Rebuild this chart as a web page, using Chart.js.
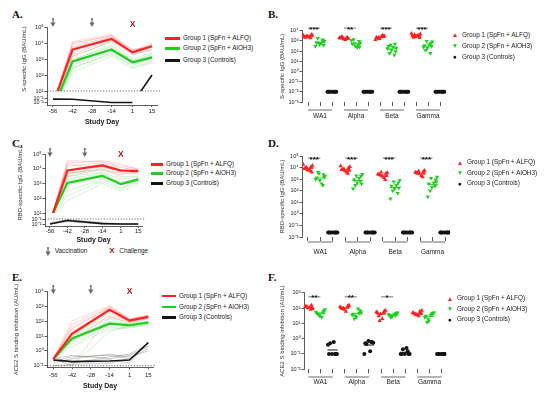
<!DOCTYPE html>
<html>
<head>
<meta charset="utf-8">
<script src="https://cdn.jsdelivr.net/npm/chart.js@4.4.1/dist/chart.umd.min.js"></script>
<style>
  html, body { margin: 0; padding: 0; background: #fff; }
  body { position: relative; width: 550px; height: 397px; overflow: hidden; font-family: "Liberation Sans", Arial, sans-serif; color: #222; }
  canvas { position: absolute; }
  .panel { position: absolute; font: bold 11px "Liberation Serif", "Times New Roman", serif; color: #111; }
  .leg { position: absolute; font-size: 6.4px; line-height: 8px; white-space: nowrap; color: #222; }
  .key { display: inline-block; vertical-align: middle; }
</style>
</head>
<body>
<div class="panel" style="left:12px;top:8px">A.</div>
<div class="panel" style="left:268px;top:8px">B.</div>
<div class="panel" style="left:12px;top:137px">C.</div>
<div class="panel" style="left:268px;top:137px">D.</div>
<div class="panel" style="left:12px;top:271px">E.</div>
<div class="panel" style="left:268px;top:271px">F.</div>

<canvas id="chartA" width="160" height="130" style="left:0;top:0"></canvas>
<canvas id="chartB" width="180" height="130" style="left:270px;top:0"></canvas>
<canvas id="chartC" width="150" height="115" style="left:0;top:130px"></canvas>
<canvas id="chartD" width="185" height="132" style="left:270px;top:130px"></canvas>
<canvas id="chartE" width="160" height="127" style="left:0;top:270px"></canvas>
<canvas id="chartF" width="180" height="127" style="left:270px;top:270px"></canvas>

<div class="leg" style="left:45px;top:247px">
  <svg width="6" height="9" style="vertical-align:middle"><path d="M3 0V6M2 1H4" stroke="#6b6b6b" stroke-width="1.2"/><path d="M0.4 4.6H5.6L3 9Z" fill="#6b6b6b"/></svg>
  <span style="margin-left:2px">Vaccination</span>
  <span style="margin-left:20px;color:#a3191c;font-weight:bold;font-size:8px">X</span>
  <span style="margin-left:3px">Challenge</span>
</div>

<script>
// study timeline
const days = [-56, -42, -14, 1, 15];
const dayTicks = [-56, -42, -28, -14, 1, 15];
const vaccinationDays = [-56, -28];
const challengeDays = [1];
const groupNames = ['Group 1 (SpFn + ALFQ)', 'Group 2 (SpFn + AlOH3)', 'Group 3 (Controls)'];
const variants = ['WA1', 'Alpha', 'Beta', 'Gamma'];

// A. S-specific IgG (BAU/mL) - group means and individual animals
const sG1 = [1.5, 3900, 18000, 2600, 6300];
const sG2 = [0.8, 700, 3900, 630, 1260];
const sG3 = [0.07, 0.065, 0.01, 0.01];     // lower segment, days -56..1
const sG3Late = [1.7, 100];                // days 1, 15
const sG1Animals = [
  [1.5, 12000, 35000, 3500, 8000], [1.5, 8000, 30000, 3000, 7000], [1.5, 6000, 25000, 2500, 5000],
  [1.5, 3000, 20000, 2200, 6000], [1.5, 2000, 15000, 1800, 4000], [1.5, 1500, 12000, 3000, 9000],
  [1.5, 5000, 22000, 4000, 5500], [1.5, 10000, 28000, 2000, 3500]
];
const sG2Animals = [
  [0.8, 1500, 12000, 1000, 2500], [0.8, 1000, 6000, 800, 2000], [0.8, 600, 4000, 500, 1500],
  [0.8, 400, 3000, 600, 1000], [0.8, 250, 2500, 300, 700], [0.8, 150, 1500, 250, 600],
  [0.8, 800, 8000, 700, 1800], [0.8, 300, 2000, 400, 1200]
];

// C. RBD-specific IgG (BAU/mL)
const rG1 = [2.3, 7600, 17000, 7600, 7000];
const rG2 = [3.6, 1100, 3300, 900, 1900];
const rG3 = [0.01, 0.05, 0.012, 0.01, 0.01];
const rG1Animals = [
  [2.3, 35000, 30000, 15000, 10000], [2.3, 25000, 35000, 20000, 9000], [2.3, 15000, 25000, 12000, 8000],
  [2.3, 8000, 20000, 9000, 7000], [2.3, 4000, 15000, 6000, 6000], [2.3, 3000, 10000, 5000, 5000],
  [2.3, 20000, 12000, 8000, 8500], [2.3, 5000, 8000, 4000, 6500]
];
const rG2Animals = [
  [3.6, 5000, 10000, 3000, 3000], [3.6, 3000, 6000, 2000, 2500], [3.6, 1500, 4000, 1200, 2000],
  [3.6, 800, 3000, 800, 1500], [3.6, 300, 2000, 500, 1200], [3.6, 70, 1000, 300, 1000],
  [3.6, 2000, 5000, 1000, 1800], [3.6, 150, 1500, 400, 2200]
];
const rG3Animals = [
  [0.01, 0.08, 0.02, 0.01, 0.01], [0.01, 0.03, 0.01, 0.01, 0.01], [0.02, 0.06, 0.015, 0.01, 0.01]
];

// E. ACE2 S binding inhibition (AU/mL)
const aG1 = [0.28, 14.5, 600, 110, 200];
const aG2 = [0.28, 6.9, 69, 54, 83];
const aG3 = [0.24, 0.19, 0.21, 0.24, 3.7];
const aG1Animals = [
  [0.3, 100, 1200, 150, 250], [0.3, 60, 1000, 130, 220], [0.3, 40, 800, 120, 200],
  [0.3, 20, 600, 100, 180], [0.3, 10, 400, 90, 160], [0.3, 5, 250, 110, 210],
  [0.3, 0.1, 200, 80, 150], [0.3, 30, 900, 140, 240]
];
const aG2Animals = [
  [0.3, 15, 200, 80, 100], [0.3, 10, 150, 60, 90], [0.3, 8, 100, 50, 80],
  [0.3, 5, 60, 45, 70], [0.3, 3, 40, 40, 60], [0.3, 2, 30, 35, 55],
  [0.3, 0.1, 20, 50, 75], [0.3, 6, 80, 70, 95]
];
const aG3Animals = [
  [0.2, 0.4, 0.5, 0.3, 1.5], [0.3, 0.5, 0.3, 0.5, 2], [0.15, 0.3, 0.6, 0.4, 1],
  [0.25, 0.2, 0.25, 0.15, 4], [0.4, 0.15, 0.4, 0.6, 3], [0.1, 0.12, 0.15, 0.3, 2.5]
];

// B. S-specific IgG by variant (WA1, Alpha, Beta, Gamma)
const bG1 = [
  [2400, 3100, 2800, 3600, 2100, 2600, 3300, 1900, 2900, 4200],
  [1800, 2200, 1500, 1700, 2500, 1300, 2000, 1600, 2300, 1900],
  [2200, 2600, 1600, 3000, 1900, 2400, 1300, 3500, 2000, 2800],
  [3000, 3600, 2500, 4800, 2200, 3300, 5200, 2800, 4000, 2000]
];
const bG2 = [
  [700, 1300, 450, 900, 1800, 550, 300, 1100, 650, 380],
  [500, 900, 300, 650, 1400, 230, 1100, 400, 560, 250],
  [300, 500, 120, 200, 60, 250, 180, 40, 400, 90],
  [350, 600, 200, 800, 120, 450, 250, 60, 900, 300]
];
const bG3 = [
  [0.01, 0.01, 0.01, 0.01, 0.01, 0.01, 0.01, 0.01],
  [0.01, 0.01, 0.01, 0.01, 0.01, 0.01, 0.01, 0.01],
  [0.01, 0.01, 0.01, 0.01, 0.01, 0.01, 0.01, 0.01],
  [0.01, 0.01, 0.01, 0.01, 0.01, 0.01, 0.01, 0.01]
];
const bSig = ['***', '**', '***', '***'];

// D. RBD-specific IgG by variant
const dG1 = [
  [8000, 12000, 6000, 15000, 9000, 7000, 18000, 5000, 10000, 4000],
  [6500, 9000, 5000, 12000, 7000, 4000, 14000, 3000, 8000, 5500],
  [2500, 3000, 1800, 3500, 2200, 1300, 2800, 900, 4000, 2000],
  [3500, 4500, 2800, 5500, 3000, 2000, 4000, 1500, 5000, 3200]
];
const dG2 = [
  [1300, 2500, 800, 1800, 4000, 400, 1000, 300, 3000, 1500],
  [900, 1800, 500, 2700, 300, 1200, 150, 700, 2000, 400],
  [250, 500, 150, 800, 100, 300, 20, 60, 600, 180],
  [400, 900, 200, 1500, 100, 500, 30, 250, 1200, 600]
];
const dG3 = [
  [0.025, 0.025, 0.025, 0.025, 0.025, 0.025, 0.025, 0.025],
  [0.025, 0.025, 0.025, 0.025, 0.025, 0.025, 0.025, 0.025],
  [0.025, 0.025, 0.025, 0.025, 0.025, 0.025, 0.025, 0.025],
  [0.025, 0.025, 0.025, 0.025, 0.025, 0.025, 0.025, 0.025]
];
const dSig = ['***', '***', '***', '***'];

// F. ACE2 S binding inhibition by variant
const fG1 = [
  [120, 150, 100, 90, 130, 110, 140, 80, 125, 105],
  [100, 130, 80, 150, 90, 60, 120, 110, 95, 140],
  [50, 60, 40, 70, 30, 20, 55, 45, 15, 65],
  [45, 55, 35, 70, 40, 30, 50, 60, 38, 42]
];
const fG2 = [
  [45, 60, 30, 80, 40, 25, 55, 50, 35, 65],
  [40, 70, 25, 50, 20, 90, 35, 45, 30, 60],
  [35, 45, 30, 50, 25, 40, 38, 33, 28, 48],
  [30, 45, 15, 50, 12, 35, 25, 40, 20, 48]
];
const fG3 = [
  [0.1, 0.1, 0.1, 0.1, 0.5, 0.6, 0.4, 0.1],
  [0.5, 0.6, 0.7, 0.55, 0.45, 0.15, 0.1, 0.6],
  [0.1, 0.1, 0.1, 0.1, 0.2, 0.25, 0.1, 0.15],
  [0.1, 0.1, 0.1, 0.1, 0.1, 0.1, 0.1, 0.1]
];
const fSig = ['**', '**', '*', ''];

const RED = '#ff2020', GREEN = '#1fcf1f', BLACK = '#141414';
const RED_T = 'rgba(255,40,40,0.28)', GREEN_T = 'rgba(30,200,30,0.3)', GRAY_T = 'rgba(0,0,0,0.3)';
const FONT = '"Liberation Sans", Arial, sans-serif';

Chart.defaults.font.family = FONT;
Chart.defaults.color = '#222';

const SUP = { '-': '⁻', '0': '⁰', '1': '¹', '2': '²', '3': '³', '4': '⁴', '5': '⁵', '6': '⁶', '7': '⁷', '8': '⁸', '9': '⁹' };
function pow10(v) {
  const e = Math.round(Math.log10(v));
  return '10' + String(e).split('').map(c => SUP[c]).join('');
}
function decades(lo, hi) {
  const t = [];
  for (let e = lo; e <= hi; e++) t.push(Math.pow(10, e));
  return t;
}

function base(pad) {
  return {
    responsive: false, animation: false, events: [],
    layout: { padding: pad, autoPadding: false },
    plugins: { legend: { display: false }, tooltip: { enabled: false } }
  };
}

function logAxis(o) {
  return {
    type: 'logarithmic', min: o.min, max: o.max,
    stack: o.stack, stackWeight: o.stackWeight, weight: o.weight || 0,
    afterBuildTicks: s => { s.ticks = o.ticks.map(v => ({ value: v })); },
    afterFit: s => { s.width = o.width; },
    ticks: { autoSkip: false, font: { size: 5.5 }, color: '#222', padding: 1, callback: v => pow10(v) },
    grid: { drawOnChartArea: false, tickLength: 2.5, color: '#333', lineWidth: 0.8 },
    border: { color: '#333', width: 0.8 },
    title: { display: !!o.title, text: o.title || '', font: { size: 6 }, color: '#333', padding: { top: o.titlePad || 0, bottom: 0 } }
  };
}

function dayAxis(min, max, height, labelPad, titlePad) {
  return {
    type: 'linear', min, max,
    afterBuildTicks: s => { s.ticks = dayTicks.map(v => ({ value: v })); },
    afterFit: s => { s.height = height; },
    ticks: { autoSkip: false, maxRotation: 0, font: { size: 6 }, color: '#222', padding: labelPad, callback: v => String(v) },
    grid: { drawOnChartArea: false, tickLength: 2, color: '#333', lineWidth: 0.8 },
    border: { color: '#333', width: 0.8 },
    title: { display: true, text: 'Study Day', font: { size: 7, weight: 'bold' }, color: '#222', padding: { top: 0, bottom: titlePad } }
  };
}

// 12 dot columns: variant i, group g -> 3 * i + g
function slotAxis(min, max, height) {
  return {
    type: 'linear', min, max, weight: 0,
    afterBuildTicks: s => { s.ticks = Array.from({ length: 12 }, (_, i) => ({ value: i })); },
    afterFit: s => { s.height = height; },
    ticks: { display: false },
    grid: { drawOnChartArea: false, tickLength: 4, color: '#333', lineWidth: 0.8 },
    border: { display: false }
  };
}
function variantAxis(min, max, labelPad) {
  return {
    type: 'linear', min, max, position: 'bottom', weight: 1,
    afterBuildTicks: s => { s.ticks = variants.map((_, i) => ({ value: 3 * i + 1 })); },
    afterFit: s => { s.height = 20; },
    ticks: { autoSkip: false, maxRotation: 0, font: { size: 6.5 }, color: '#222', padding: labelPad, callback: (v, i) => variants[i] },
    grid: { display: false, drawTicks: false },
    border: { display: false }
  };
}

function line(xs, ys, color, width, axis) {
  return {
    data: xs.map((x, i) => ({ x, y: ys[i] })),
    borderColor: color, borderWidth: width, pointRadius: 0, tension: 0, fill: false, yAxisID: axis
  };
}

const jitter = [-0.3, 0.25, -0.05, 0.36, -0.2, 0.1, -0.38, 0.2, -0.12, 0.3];
function cloud(byVariant, g) {
  const pts = [];
  byVariant.forEach((vals, i) => vals.forEach((v, k) => pts.push({ x: 3 * i + g + jitter[k % jitter.length], y: v })));
  return pts;
}
function dotSets(g1, g2, g3) {
  return [
    { data: cloud(g1, 0), pointStyle: 'triangle', pointRadius: 2.5, backgroundColor: RED, borderWidth: 0 },
    { data: cloud(g2, 1), pointStyle: 'triangle', rotation: 180, pointRadius: 2.5, backgroundColor: GREEN, borderWidth: 0 },
    { data: cloud(g3, 2), pointStyle: 'circle', pointRadius: 2, backgroundColor: BLACK, borderWidth: 0 }
  ];
}

function drawArrow(ctx, x, y) {
  ctx.save();
  ctx.strokeStyle = ctx.fillStyle = '#6b6b6b';
  ctx.lineWidth = 1.2;
  ctx.beginPath(); ctx.moveTo(x, y); ctx.lineTo(x, y + 6); ctx.stroke();
  ctx.beginPath(); ctx.moveTo(x - 1, y + 1); ctx.lineTo(x + 1, y + 1); ctx.stroke();
  ctx.beginPath(); ctx.moveTo(x - 2.6, y + 4.6); ctx.lineTo(x + 2.6, y + 4.6); ctx.lineTo(x, y + 9); ctx.closePath(); ctx.fill();
  ctx.restore();
}

function eventMarks(top) {
  return {
    id: 'eventMarks',
    afterDraw(chart) {
      const { ctx } = chart;
      const x = chart.scales.x;
      vaccinationDays.forEach(d => drawArrow(ctx, x.getPixelForValue(d), top));
      ctx.save();
      ctx.fillStyle = '#a3191c';
      ctx.font = 'bold 8.5px ' + FONT;
      ctx.textAlign = 'center';
      ctx.textBaseline = 'alphabetic';
      challengeDays.forEach(d => ctx.fillText('X', x.getPixelForValue(d), top + 9));
      ctx.restore();
    }
  };
}

function lodLine(axis, value) {
  return {
    id: 'lodLine',
    beforeDatasetsDraw(chart) {
      const { ctx, chartArea: a } = chart;
      const y = chart.scales[axis].getPixelForValue(value);
      ctx.save();
      ctx.strokeStyle = '#444'; ctx.lineWidth = 0.8; ctx.setLineDash([1.2, 1.6]);
      ctx.beginPath(); ctx.moveTo(a.left, y); ctx.lineTo(a.right + 3, y); ctx.stroke();
      ctx.restore();
    }
  };
}

function clusterMeans(groups) {
  const colors = [RED, GREEN, BLACK];
  return {
    id: 'clusterMeans',
    afterDatasetsDraw(chart) {
      const { ctx } = chart;
      const { x, y } = chart.scales;
      ctx.save();
      ctx.lineWidth = 1;
      groups.forEach((byVariant, g) => byVariant.forEach((vals, i) => {
        const gm = Math.exp(vals.reduce((s, v) => s + Math.log(v), 0) / vals.length);
        const py = y.getPixelForValue(gm);
        ctx.strokeStyle = colors[g];
        ctx.beginPath();
        ctx.moveTo(x.getPixelForValue(3 * i + g - 0.42), py);
        ctx.lineTo(x.getPixelForValue(3 * i + g + 0.42), py);
        ctx.stroke();
      }));
      ctx.restore();
    }
  };
}

function variantRules() {
  return {
    id: 'variantRules',
    afterDraw(chart) {
      const { ctx } = chart;
      const x = chart.scales.x;
      ctx.save();
      ctx.strokeStyle = '#444'; ctx.lineWidth = 0.8;
      variants.forEach((_, i) => {
        ctx.beginPath();
        ctx.moveTo(x.getPixelForValue(3 * i), x.bottom);
        ctx.lineTo(x.getPixelForValue(3 * i + 2), x.bottom);
        ctx.stroke();
      });
      ctx.restore();
    }
  };
}

function sigBars(labels, level) {
  return {
    id: 'sigBars',
    afterDraw(chart) {
      const { ctx } = chart;
      const { x, y } = chart.scales;
      const py = y.getPixelForValue(level);
      ctx.save();
      ctx.strokeStyle = '#555'; ctx.lineWidth = 0.8; ctx.fillStyle = '#111';
      ctx.font = 'bold 8px ' + FONT; ctx.textAlign = 'center'; ctx.textBaseline = 'alphabetic';
      labels.forEach((t, i) => {
        if (!t) return;
        const x0 = x.getPixelForValue(3 * i), x1 = x.getPixelForValue(3 * i + 1);
        ctx.beginPath(); ctx.moveTo(x0, py); ctx.lineTo(x1, py); ctx.stroke();
        ctx.fillText(t, (x0 + x1) / 2, py + 3.5);
      });
      ctx.restore();
    }
  };
}

// A
new Chart(document.getElementById('chartA'), {
  type: 'line',
  data: { datasets: [
    line(days, sG1, RED, 2.2, 'y'),
    line(days, sG2, GREEN, 2.2, 'y'),
    line(days.slice(0, 4), sG3, BLACK, 1.6, 'y2'),
    line([1, 15], sG3Late, BLACK, 1.6, 'y'),
    ...sG1Animals.map(v => line(days, v, RED_T, 0.7, 'y')),
    ...sG2Animals.map(v => line(days, v, GREEN_T, 0.7, 'y'))
  ] },
  options: Object.assign(base({ left: 0, right: 3, top: 27, bottom: 0 }), {
    scales: {
      x: dayAxis(-60.3, 18.6, 25, 0.4, 3.8),
      y: logAxis({ min: 10, max: 1e5, ticks: decades(1, 5), stack: 'a', stackWeight: 64, weight: 2, width: 47, title: 'S-specific IgG (BAU/mL)', titlePad: 21 }),
      y2: logAxis({ min: Math.pow(10, -2.625), max: Math.pow(10, 0.875), ticks: decades(-2, -1), stack: 'a', stackWeight: 14, weight: 1, width: 47 })
    }
  }),
  plugins: [eventMarks(18), lodLine('y', 10)]
});

// C
new Chart(document.getElementById('chartC'), {
  type: 'line',
  data: { datasets: [
    line(days, rG1, RED, 2.2, 'y'),
    line(days, rG2, GREEN, 2.2, 'y'),
    line(days, rG3, BLACK, 1.6, 'y2'),
    ...rG1Animals.map(v => line(days, v, RED_T, 0.7, 'y')),
    ...rG2Animals.map(v => line(days, v, GREEN_T, 0.7, 'y')),
    ...rG3Animals.map(v => line(days, v, GRAY_T, 0.7, 'y2'))
  ] },
  options: Object.assign(base({ left: 0, right: 8, top: 24, bottom: 0 }), {
    scales: {
      x: dayAxis(-60, 18, 19, 0.1, 0.8),
      y: logAxis({ min: 10, max: 1e5, ticks: decades(1, 5), stack: 'c', stackWeight: 59, weight: 2, width: 45, title: 'RBD-specific IgG (BAU/mL)', titlePad: 17 }),
      y2: logAxis({ min: Math.pow(10, -2.4), max: Math.pow(10, 0.2), ticks: decades(-2, -1), stack: 'c', stackWeight: 13, weight: 1, width: 45 })
    }
  }),
  plugins: [eventMarks(18), lodLine('y2', 0.1)]
});

// E
new Chart(document.getElementById('chartE'), {
  type: 'line',
  data: { datasets: [
    line(days, aG1, RED, 2.2, 'y'),
    line(days, aG2, GREEN, 2.2, 'y'),
    line(days, aG3, BLACK, 1.6, 'y'),
    ...aG1Animals.map(v => line(days, v, RED_T, 0.7, 'y')),
    ...aG2Animals.map(v => line(days, v, GREEN_T, 0.7, 'y')),
    ...aG3Animals.map(v => line(days, v, GRAY_T, 0.7, 'y'))
  ] },
  options: Object.assign(base({ left: 0, right: 7, top: 21.7, bottom: 0 }), {
    scales: {
      x: dayAxis(-60.7, 18.5, 29.7, 2.1, 6.8),
      y: logAxis({ min: 0.078, max: 1e4, ticks: decades(-1, 4), width: 47, title: 'ACE2 S binding inhibition (AU/mL)', titlePad: 13 })
    }
  }),
  plugins: [eventMarks(15), lodLine('y', 0.1)]
});

// B
new Chart(document.getElementById('chartB'), {
  type: 'scatter',
  data: { datasets: dotSets(bG1, bG2, bG3) },
  options: Object.assign(base({ left: 0, right: 4, top: 30.7, bottom: 0 }), {
    scales: {
      x: slotAxis(-0.5, 11.5, 8),
      x2: variantAxis(-0.5, 11.5, 2.8),
      y: logAxis({ min: 1e-3, max: 1e4, ticks: decades(-3, 4), width: 32, title: 'S-specific IgG (BAU/mL)', titlePad: 8.4 })
    }
  }),
  plugins: [clusterMeans([bG1, bG2, bG3]), variantRules(), sigBars(bSig, Math.pow(10, 4.25))]
});

// D
new Chart(document.getElementById('chartD'), {
  type: 'scatter',
  data: { datasets: dotSets(dG1, dG2, dG3) },
  options: Object.assign(base({ left: 0, right: 5, top: 26, bottom: 0 }), {
    scales: {
      x: slotAxis(-0.48, 11.4, 5),
      x2: variantAxis(-0.48, 11.4, 6.4),
      y: logAxis({ min: 1e-2, max: 1e5, ticks: decades(-2, 5), width: 32, title: 'RBD-specific IgG (BAU/mL)', titlePad: 8.4 })
    }
  }),
  plugins: [clusterMeans([dG1, dG2, dG3]), variantRules(), sigBars(dSig, Math.pow(10, 4.82))]
});

// F
new Chart(document.getElementById('chartF'), {
  type: 'scatter',
  data: { datasets: dotSets(fG1, fG2, fG3) },
  options: Object.assign(base({ left: 0, right: 4, top: 22.7, bottom: 0 }), {
    scales: {
      x: slotAxis(-0.36, 11.36, 7.7),
      x2: variantAxis(-0.36, 11.36, 1.8),
      y: logAxis({ min: 1e-2, max: 1e3, ticks: decades(-2, 3), width: 34, title: 'ACE2 S binding inhibition (AU/mL)', titlePad: 8.4 })
    }
  }),
  plugins: [clusterMeans([fG1, fG2, fG3]), variantRules(), sigBars(fSig, Math.pow(10, 2.73))]
});

// HTML legends
function addLegend(left, tops, kind, keyWidth) {
  const colors = [RED, GREEN, BLACK];
  const marks = ['▲', '▼', '●'];
  groupNames.forEach((name, g) => {
    const row = document.createElement('div');
    row.className = 'leg';
    row.style.left = left + 'px';
    row.style.top = (tops[g] - 4) + 'px';
    const key = document.createElement('span');
    key.className = 'key';
    if (kind === 'line') {
      key.style.width = keyWidth + 'px';
      key.style.height = '2.5px';
      key.style.background = colors[g];
      key.style.marginRight = '3px';
    } else {
      key.textContent = marks[g];
      key.style.color = colors[g];
      key.style.fontSize = '6.5px';
      key.style.width = keyWidth + 'px';
      key.style.textAlign = 'center';
      key.style.marginRight = '3px';
    }
    row.appendChild(key);
    row.appendChild(document.createTextNode(name));
    document.body.appendChild(row);
  });
}
addLegend(165, [38.3, 48.3, 60], 'line', 15);
addLegend(151, [164.3, 173.3, 183.3], 'line', 12);
addLegend(162, [295.7, 306.7, 317.3], 'line', 14);
addLegend(451, [35, 46, 56.7], 'mark', 8);
addLegend(456, [162.3, 172.7, 183.3], 'mark', 8);
addLegend(446, [298.3, 309, 319.3], 'mark', 8);
</script>
</body>
</html>
